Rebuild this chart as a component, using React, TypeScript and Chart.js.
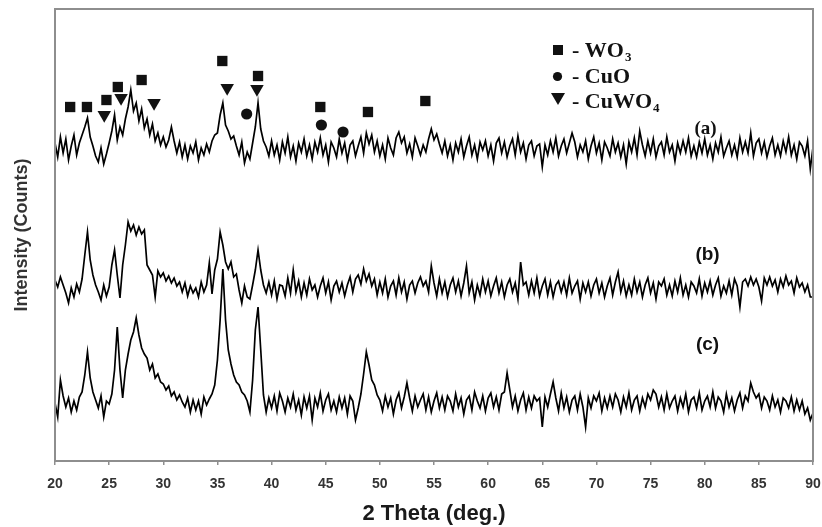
import React, { useEffect, useRef } from "react";
import { Chart, registerables } from "chart.js";

Chart.register(...registerables);

// ---- data -------------------------------------------------------------
// 2-theta sampling grid (degrees)
const X_START = 20;
const X_STEP = 0.25;
const X_TICKS = [20, 25, 30, 35, 40, 45, 50, 55, 60, 65, 70, 75, 80, 85, 90];

// intensities (arbitrary counts, relative to each baseline)
const TRACE_A = [
  6, -8, 12, -4, 10, -11, 3, 14,
  -6, 6, 14, 22, 31, 12, 3, -7,
  -13, 1, -15, -5, 6, 18, 34, 9,
  22, 14, 30, 42, 59, 38, 46, 28,
  40, 21, 30, 14, 25, 8, 16, 4,
  12, 2, 9, 22, 8, -4, 7, -8,
  4, -10, 3, -4, 7, -11, 1, -6,
  5, -3, 8, 14, 16, 34, 46, 24,
  18, 10, 13, 3, -6, 7, -14, -3,
  -10, 6, 22, 46, 20, 8, 2, -7,
  8, -6, 4, -11, 7, -4, 12, -8,
  3, -12, 6, -3, 10, -7, 4, -10,
  7, -3, 11, -6, 4, -13, 7, 1,
  -8, 10, -4, 6, -11, 4, 8, -7,
  3, 12, -4, 16, 5, 14, -3, 8,
  -7, 4, -10, 11, 1, -6, 11, 17,
  6, 12, -4, 5, -8, 11, 3, -6,
  4, -3, 10, 20, 9, 15, 5, -4,
  8, -7, 4, -11, 6, -3, 10, -8,
  3, 12, -6, 4, -10, 7, -1, 8,
  -7, 4, -12, 6, 11, -4, 7, -8,
  3, 10, -6, 13, -3, 6, -10, 4,
  8, -7, 3, 5, -18, 4, -6, 8,
  -3, 11, -7, 3, 10, -4, 6, 16,
  7, -8, 4, -3, 8, -10, 3, 12,
  -4, 6, -11, 7, 1, -7, 10, -3,
  6, -8, 4, -15, 7, -3, 11, -6,
  18, 4, -7, 8, -4, 10, -8, 3,
  7, -6, 12, -3, 4, -12, 6, -4,
  8, -3, 11, -7, 3, -8, 7, -4,
  10, -6, 4, -10, 6, -3, 12, -7,
  1, 8, -6, 4, -8, 11, -3, 7,
  -4, 16, -7, 6, 10, -4, 7, -8,
  3, 11, -6, 4, -7, 8, -3, 12,
  -6, 4, -10, 7, 3, -7, 8, -20,
  2,
];

const TRACE_B = [
  9, 2, 12, 4, -4, -14, 1, -8,
  5, -3, 10, 34, 57, 29, 14, 4,
  -3, -11, 4, -7, 2, 24, 39, 14,
  -9, 24, 44, 67, 58, 64, 54, 62,
  55, 59, 24, 19, 14, -8, 18, 12,
  16, 8, 13, 6, 11, 3, 7, -3,
  6, -7, 3, -4, 1, -8, 7, -3,
  4, 26, -5, 19, 30, 57, 44, 27,
  20, 27, 12, 15, -1, -14, 3, -8,
  -10, 4, 19, 39, 19, 4, -4, 7,
  -6, 8, -10, 4, 3, -7, 11, -4,
  19, -3, 8, -8, 6, -6, 10, -1,
  4, -8, 3, 11, -4, 7, -11, 3,
  8, -3, 6, -7, 4, 12, -3, 10,
  14, 5, 20, 8, 15, 3, 10, -6,
  7, -4, 10, -8, 3, 8, -6, 11,
  -3, 7, -10, 4, 8, -4, 6, 12,
  3, 8, -3, 23, 6, -7, 10, -4,
  7, -8, 4, 11, -3, 8, -7, 6,
  23, -4, 7, -11, 4, -6, 10, -3,
  8, -7, 3, 11, -4, 7, -8, 4,
  10, -3, 6, -10, 27, 4, 7, -6,
  8, -4, 11, -7, 3, 10, -6, 7,
  -8, 4, 8, -3, 7, -6, 11, -4,
  3, 8, -10, 6, -3, 7, -7, 4,
  10, -4, 6, -8, 3, 11, -6, 7,
  17, -3, 8, -7, 4, -6, 10, -3,
  7, -8, 4, 11, -4, 6, -10, 7,
  3, 10, -6, 4, -7, 8, -3, 11,
  -6, 4, -8, 7, 3, -4, 10, -7,
  6, -3, 8, -6, 4, 11, -7, 3,
  -4, 8, -6, 10, 3, -18, 7, 10,
  3, 12, 4, 10, 2, -12, 11, 4,
  12, 3, 9, -3, 10, 2, 13, 4,
  8, -4, 11, 2, 6, -3, 4, -8,
  -8,
];

const TRACE_C = [
  1, -13, 24, 8, -3, 6, -8, 3,
  -6, 7, 12, 29, 52, 26, 12, 4,
  -4, 8, -13, 3, 0, 10, 34, 77,
  34, 6, 34, 50, 64, 72, 86, 69,
  56, 50, 46, 34, 40, 26, 30, 22,
  20, 14, 18, 8, 12, 4, 9, 2,
  -3, 6, -8, 4, -6, 3, -10, 7,
  -1, 5, 10, 19, 44, 84, 135, 84,
  54, 40, 29, 22, 19, 12, 9, 3,
  -8, 24, 74, 97, 54, 9, -8, 6,
  -4, 8, -7, 11, 3, -8, 6, -3,
  10, -6, 4, -11, 7, -4, 8, -16,
  6, -3, 11, -7, 4, 10, -6, 3,
  -8, 7, -4, 6, -10, 8, 3, -16,
  -4, 10, 30, 52, 39, 24, 19, 9,
  4, -7, 8, -3, 6, -10, 4, 11,
  -4, 7, 21, 6, -7, 8, -3, 4,
  10, -6, 7, -8, 3, 11, -4, 7,
  -6, 8, 3, -7, 10, -3, 6, -10,
  4, 8, -6, 12, 3, -4, 8, -7,
  6, 11, -3, 7, -6, 10, 12, 31,
  14, -3, 8, -7, 4, 11, -6, 7,
  -4, 8, 3, 6, -23, 7, -3, 10,
  22, 6, -7, 11, -4, 7, -8, 4,
  8, -6, 10, -3, -23, 6, -4, 8,
  3, 11, -7, 6, -4, 8, -3, 10,
  4, -8, 7, -3, 11, -6, 4, 8,
  -7, 6, -3, 10, 4, 14, 10, -3,
  7, -6, 10, -4, 3, 8, -7, 6,
  -3, 10, -8, 4, 7, -4, 11, -6,
  3, 8, -3, 12, -4, 7, 3, -8,
  10, -3, 6, -7, 4, 11, -4, 8,
  3, 21, 12, 6, 10, -4, 7, 3,
  -6, 8, -3, 4, -8, 6, 3, -4,
  7, -7, 4, -6, 3, -10, -4, -16,
  -9,
];

// vertical stacking offsets of the three patterns
const OFFSET_A = 312;
const OFFSET_B = 172;
const OFFSET_C = 57;
const Y_MAX = 452;

const TRACE_NAMES = ["(a)", "(b)", "(c)"];
const TRACE_LABEL_X = [80.07, 80.26, 80.26];
const TRACE_LABEL_Y = [331.5, 206, 116];

// phase markers above the peaks of pattern (a)
const WO3_X = [21.4, 22.95, 24.75, 25.8, 28.0, 35.45, 38.75, 44.5, 48.9, 54.2];
const WO3_Y = [354, 354, 361, 374, 381, 400, 385, 354, 349, 360];
const CUO_X = [37.7, 44.6, 46.6];
const CUO_Y = [347, 336, 329];
const CUWO4_X = [24.55, 26.1, 29.15, 35.9, 38.65];
const CUWO4_Y = [346, 363, 358, 373, 372];

const LEGEND_NAMES = ["WO", "CuO", "CuWO"];
const LEGEND_SUBS = ["3", "", "4"];
const LEGEND_SHAPES = ["rect", "circle", "triangle"];

// ---- plugins ------------------------------------------------------------
const framePlugin = {
  id: "frame",
  afterDatasetsDraw(chart: any) {
    const { ctx, chartArea } = chart;
    const { left, top, right, bottom } = chartArea;
    ctx.save();
    ctx.strokeStyle = "#8e8e8e";
    ctx.lineWidth = 2;
    ctx.strokeRect(left, top, right - left, bottom - top);
    ctx.restore();
  },
};

const textPlugin = {
  id: "xrdText",
  afterDraw(chart: any) {
    const { ctx, chartArea, scales } = chart;
    const xs = scales.x;
    const ys = scales.y;
    ctx.save();
    ctx.fillStyle = "#111";
    ctx.textAlign = "center";
    ctx.textBaseline = "middle";
    TRACE_NAMES.forEach((t, i) => {
      ctx.font =
        i === 0
          ? 'bold 19px "Liberation Serif", "Times New Roman", serif'
          : 'bold 19px "Liberation Sans", Arial, sans-serif';
      ctx.fillText(t, xs.getPixelForValue(TRACE_LABEL_X[i]), ys.getPixelForValue(TRACE_LABEL_Y[i]));
    });

    // legend
    const mx = chartArea.left + 503;
    const tx = chartArea.left + 517;
    const baseTop = chartArea.top + 48;
    const gap = 25.5;
    ctx.textAlign = "left";
    ctx.textBaseline = "alphabetic";
    LEGEND_NAMES.forEach((name, i) => {
      const base = baseTop + i * gap;
      const cy = base - 7;
      const shape = LEGEND_SHAPES[i];
      ctx.beginPath();
      if (shape === "rect") {
        ctx.rect(mx - 5, cy - 5, 10, 10);
      } else if (shape === "circle") {
        ctx.arc(mx - 0.5, cy + 1, 4.6, 0, Math.PI * 2);
      } else {
        ctx.moveTo(mx - 7, cy - 8);
        ctx.lineTo(mx + 7, cy - 8);
        ctx.lineTo(mx, cy + 4);
        ctx.closePath();
      }
      ctx.fill();
      ctx.font = 'bold 22px "Liberation Serif", "Times New Roman", serif';
      const main = "- " + name;
      ctx.fillText(main, tx, base);
      const w = ctx.measureText(main).width;
      if (LEGEND_SUBS[i]) {
        ctx.font = 'bold 13px "Liberation Serif", "Times New Roman", serif';
        ctx.fillText(LEGEND_SUBS[i], tx + w + 1, base + 4);
      }
    });
    ctx.restore();
  },
};

export default function App() {
  const ref = useRef<HTMLCanvasElement>(null);

  useEffect(() => {
    document.body.style.margin = "0";
    const canvas = ref.current;
    if (!canvas) return;
    const xs = TRACE_A.map((_, i) => X_START + i * X_STEP);
    const toPts = (vals: number[], off: number) => vals.map((v, i) => ({ x: xs[i], y: v + off }));
    const marks = (mx: number[], my: number[]) => mx.map((x, i) => ({ x, y: my[i] }));
    const lineStyle = {
      borderColor: "#000",
      borderWidth: 1.7,
      pointRadius: 0,
      tension: 0,
      fill: false,
    };
    const markStyle = {
      backgroundColor: "#111",
      borderColor: "#111",
      borderWidth: 0,
      showLine: false,
    };
    const chart = new Chart(canvas, {
      type: "line",
      data: {
        datasets: [
          { label: "(a)", data: toPts(TRACE_A, OFFSET_A), ...lineStyle },
          { label: "(b)", data: toPts(TRACE_B, OFFSET_B), ...lineStyle },
          { label: "(c)", data: toPts(TRACE_C, OFFSET_C), ...lineStyle },
          { type: "scatter", label: "WO3", data: marks(WO3_X, WO3_Y), pointStyle: "rect", pointRadius: 7.3, ...markStyle } as any,
          { type: "scatter", label: "CuO", data: marks(CUO_X, CUO_Y), pointStyle: "circle", pointRadius: 5.6, ...markStyle } as any,
          { type: "scatter", label: "CuWO4", data: marks(CUWO4_X, CUWO4_Y), pointStyle: "triangle", rotation: 180, pointRadius: 7.8, ...markStyle } as any,
        ],
      },
      options: {
        responsive: false,
        animation: false,
        devicePixelRatio: 1,
        layout: { padding: { top: 9, right: 9, left: 0, bottom: 0 } },
        plugins: {
          legend: { display: false },
          tooltip: { enabled: false },
        },
        scales: {
          x: {
            type: "linear",
            min: 20,
            max: 90,
            afterBuildTicks: (s: any) => {
              s.ticks = X_TICKS.map((v) => ({ value: v }));
            },
            afterFit: (s: any) => {
              s.height = 66;
              s.paddingLeft = 0;
              s.paddingRight = 0;
            },
            ticks: {
              autoSkip: false,
              maxRotation: 0,
              padding: 11,
              color: "#333",
              font: { family: "Liberation Sans, Arial, sans-serif", size: 14, weight: "bold" },
            },
            grid: {
              drawOnChartArea: false,
              drawTicks: true,
              tickLength: 4,
              color: "#8e8e8e",
              lineWidth: 1.5,
            },
            border: { display: false },
            title: {
              display: true,
              text: "2 Theta (deg.)",
              color: "#1a1a1a",
              padding: 0,
              font: { family: "Liberation Sans, Arial, sans-serif", size: 22, weight: "bold" },
            },
          },
          y: {
            type: "linear",
            min: 0,
            max: Y_MAX,
            afterFit: (s: any) => {
              s.width = 55;
            },
            ticks: { display: false },
            grid: { display: false },
            border: { display: false },
            title: {
              display: true,
              text: "Intensity (Counts)",
              color: "#333",
              padding: { top: 11, bottom: 0 },
              font: { family: "Liberation Sans, Arial, sans-serif", size: 18, weight: "bold" },
            },
          },
        },
      } as any,
      plugins: [framePlugin, textPlugin],
    });
    return () => chart.destroy();
  }, []);

  return (
    <div style={{ width: 822, height: 527 }}>
      <canvas ref={ref} width={822} height={527} style={{ display: "block", width: 822, height: 527 }} />
    </div>
  );
}
